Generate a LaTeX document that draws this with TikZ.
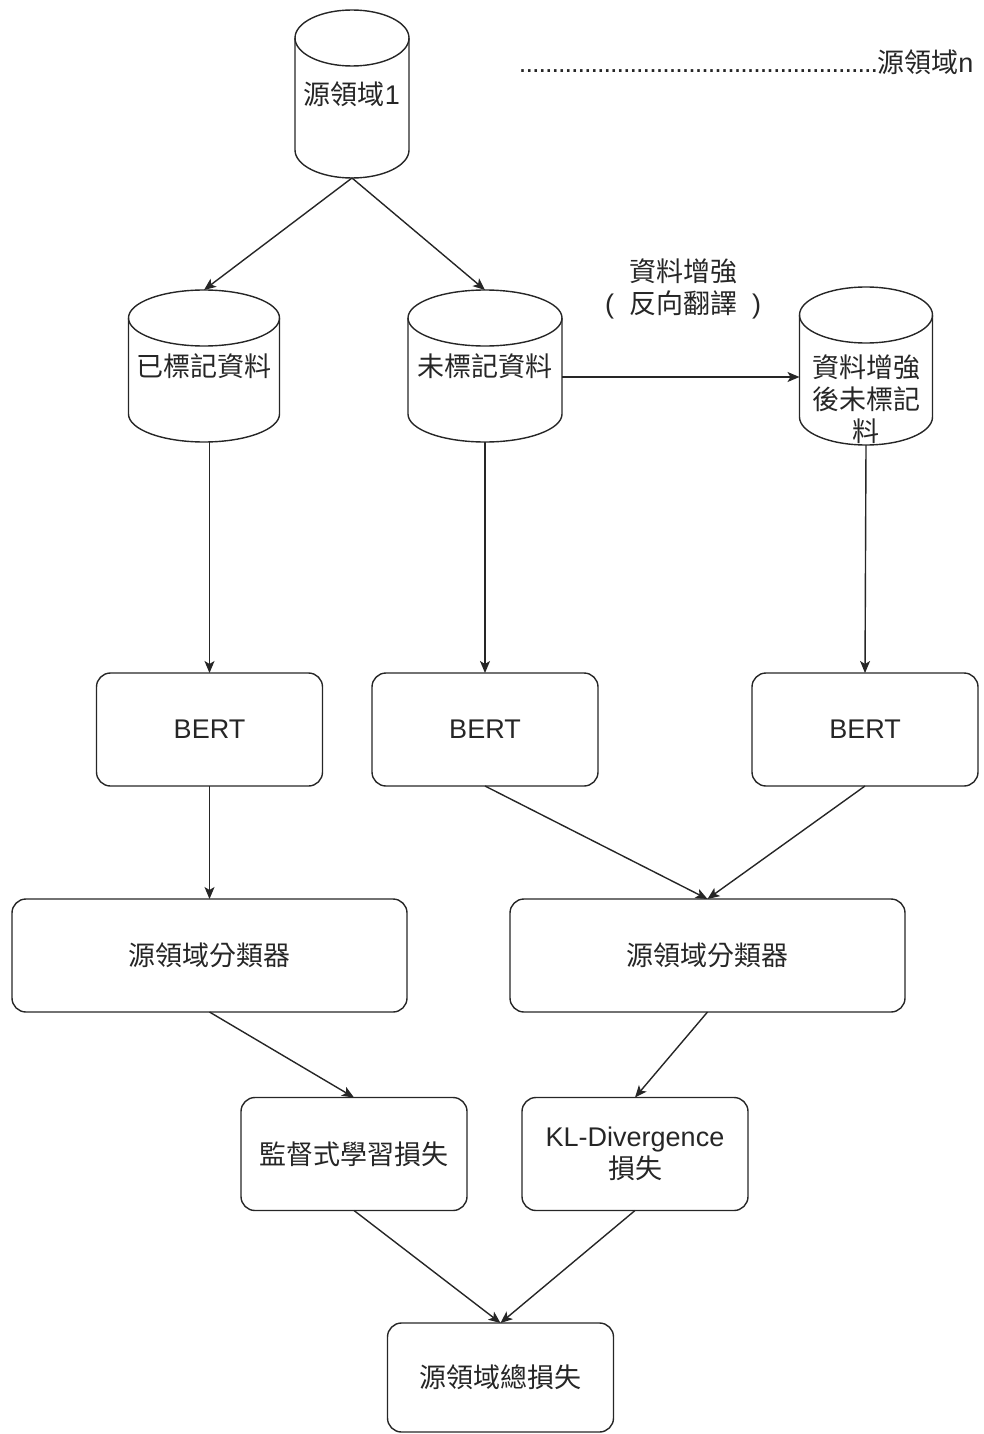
\documentclass[tikz,border=0pt]{standalone}
\usepackage{fontspec}
\setmainfont{Liberation Sans}
\newfontfamily\cjk{Noto Sans CJK TC}
\usetikzlibrary{arrows.meta}

% outline of a storage drum drawn around a borderless node
\newcommand\drumoutline[3]{%
  \draw[line] ([yshift=-#3pt]#1.north) ellipse[x radius=#2pt, y radius=#3pt];
  \draw[line] ([yshift=-#3pt]#1.north west) -- ([yshift=#3pt]#1.south west)
    arc[start angle=180, end angle=360, x radius=#2pt, y radius=#3pt]
    -- ([yshift=-#3pt]#1.north east);
}

\tikzset{
  line/.style={line width=1.4pt, draw=black!85},
  txt/.style={font=\fontsize{27}{32}\selectfont, text=black!85, align=center},
  cjkt/.style={font=\cjk\fontsize{27}{32}\selectfont, text=black!85, align=center},
  drum/.style={draw=none, inner sep=0pt, outer sep=0pt, minimum width=#1},
  box/.style={line, rounded corners=14pt, minimum width=226pt, minimum height=113pt, inner sep=0pt, outer sep=0pt},
  wide/.style={box, minimum width=395pt},
  arr/.style={line, -{Stealth[length=12pt, width=10pt, inset=3pt]}},
}

\begin{document}
\begin{tikzpicture}[x=1pt, y=-1pt]
\useasboundingbox (0,0) rectangle (983,1434);

% data sources
\node[drum=114pt, minimum height=168pt, txt] (src) at (352,94) {{\cjk 源領域}1};
\drumoutline{src}{57}{28}
\node[drum=151pt, minimum height=152pt, cjkt] (lab) at (204,366) {已標記資料};
\drumoutline{lab}{75.5}{28}
\node[drum=154pt, minimum height=152pt, cjkt] (unl) at (485,366) {未標記資料};
\drumoutline{unl}{77}{28}
\node[drum=133pt, minimum height=158pt] (aug) at (866,366) {};
\drumoutline{aug}{66.5}{28}
\node[cjkt] (augtext) at (866,399) {資料增強\\後未標記\\料};

\node[txt, anchor=base east] (srcn) at (977,73)
  {\makebox[358pt]{\xleaders\hbox to 6.45pt{\hss.\hss}\hfill}{\cjk 源領域}n};
\node[cjkt] (auglabel) at (683,289) {資料增強\\{\fontspec{Liberation Sans}(\ \ }反向翻譯{\fontspec{Liberation Sans}\ \ )}};

% encoders
\node[box, txt] (bert1) at (209.5,729.5) {BERT};
\node[box, txt] (bert2) at (485,729.5) {BERT};
\node[box, txt] (bert3) at (865,729.5) {BERT};

% classifiers
\node[wide, cjkt] (cls1) at (209.5,955.5) {源領域分類器};
\node[wide, cjkt] (cls2) at (707.5,955.5) {源領域分類器};

% losses
\node[box, cjkt] (sup) at (354,1154) {監督式學習損失};
\node[box, txt] (kl) at (635,1154) {KL-Divergence\\{\cjk 損失}};
\node[box, cjkt, minimum height=109pt] (total) at (500.5,1377.5) {源領域總損失};

% connectors
\draw[arr] (src.south) -- (lab.north);
\draw[arr] (src.south) -- (unl.north);
\draw[arr] ([yshift=-11pt]unl.east) -- ([yshift=-11pt]aug.west);
\draw[arr] (bert1.north |- lab.south) -- (bert1.north);
\draw[arr] (unl.south) -- (bert2.north);
\draw[arr] (aug.south) -- (bert3.north);
\draw[arr] (bert1.south) -- (cls1.north);
\draw[arr] (bert2.south) -- (cls2.north);
\draw[arr] (bert3.south) -- (cls2.north);
\draw[arr] (cls1.south) -- (sup.north);
\draw[arr] (cls2.south) -- (kl.north);
\draw[arr] (sup.south) -- (total.north);
\draw[arr] (kl.south) -- (total.north);
\end{tikzpicture}
\end{document}
